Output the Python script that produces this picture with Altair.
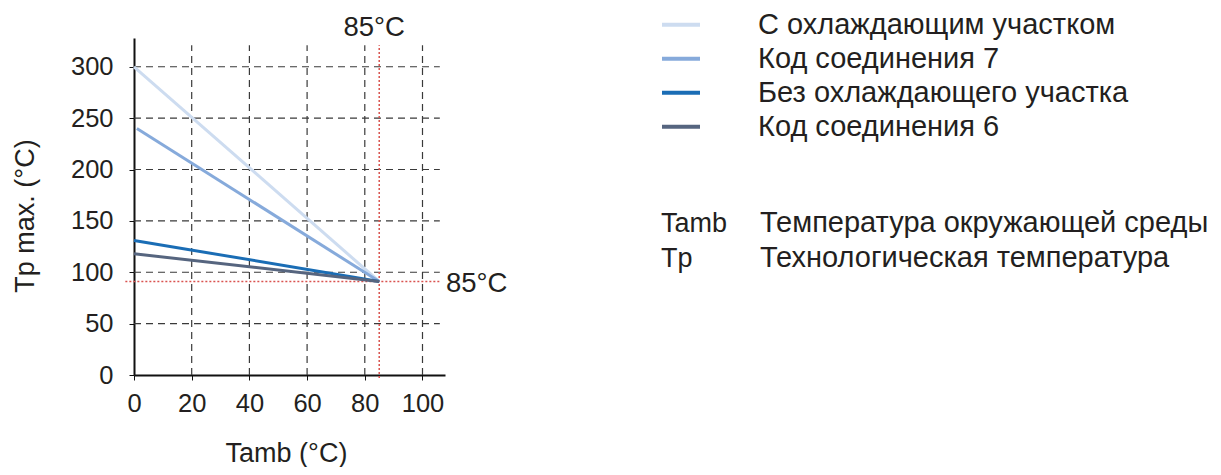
import altair as alt
import pandas as pd

FONT = "Liberation Sans"
TXT = "#231f20"

series_names = ["С охлаждающим участком", "Код соединения 7",
                "Без охлаждающего участка", "Код соединения 6"]
series_colors = ["#cddcf0", "#86aadb", "#1a6db5", "#56657f"]
x_start = [0, 1, 0, 0]
y_start = [300, 240, 131, 118]
x_end = [85, 85, 85, 85]
y_end = [91, 91, 91, 91]

x_ticks = [0, 20, 40, 60, 80, 100]
y_ticks = [0, 50, 100, 150, 200, 250, 300]
x_grid = [20, 40, 60, 80, 100]
y_grid = [50, 100, 150, 200, 250, 300]

limit_x = 85
limit_y = 91

abbr = ["Tamb", "Tp"]
abbr_desc = ["Температура окружающей среды", "Технологическая температура"]

rows = []
for n, xs_, ys_, xe, ye in zip(series_names, x_start, y_start, x_end, y_end):
    rows.append({"s": n, "x": xs_, "y": ys_})
    rows.append({"s": n, "x": xe, "y": ye})
lines_df = pd.DataFrame(rows)

xs = alt.Scale(domain=[0, 107.8], nice=False, zero=False)
ys = alt.Scale(domain=[0, 328], nice=False)

vgrid = alt.Chart(pd.DataFrame({"x": x_grid})).mark_rule(
    strokeDash=[7, 5], color="#3a3a3a", strokeWidth=1.2
).encode(x=alt.X("x:Q", scale=xs), y=alt.datum(0), y2=alt.datum(321))

hgrid = alt.Chart(pd.DataFrame({"y": y_grid})).mark_rule(
    strokeDash=[7, 5], color="#3a3a3a", strokeWidth=1.2
).encode(y=alt.Y("y:Q", scale=ys), x=alt.datum(0), x2=alt.datum(106))

red_v = alt.Chart(pd.DataFrame({"x": [limit_x]})).mark_rule(
    strokeDash=[2, 2], color="#d9534f", strokeWidth=1.5
).encode(x=alt.X("x:Q", scale=xs), y=alt.datum(-3), y2=alt.datum(321))

red_h = alt.Chart(pd.DataFrame({"y": [limit_y]})).mark_rule(
    strokeDash=[2, 2], color="#d9534f", strokeWidth=1.5
).encode(y=alt.Y("y:Q", scale=ys), x=alt.datum(-3), x2=alt.datum(106))

lines = alt.Chart(lines_df).mark_line(strokeWidth=3).encode(
    x=alt.X("x:Q", scale=xs,
            axis=alt.Axis(values=x_ticks, title="Tamb (°C)", grid=False,
                          labelFontSize=25.5, labelPadding=11, tickSize=5,
                          labelFlush=False,
                          titleFontSize=27, titleFontWeight="normal",
                          titleX=152, titleY=86.5, titleAlign="center",
                          titleBaseline="alphabetic")),
    y=alt.Y("y:Q", scale=ys,
            axis=alt.Axis(values=y_ticks, title="Tp max. (°C)", grid=False,
                          labelFontSize=25.5, labelPadding=16, tickSize=5,
                          labelFlush=False,
                          titleFontSize=27, titleFontWeight="normal",
                          titleX=-108.5, titleY=177.5, titleAngle=-90,
                          titleAlign="center", titleBaseline="middle")),
    color=alt.Color("s:N", scale=alt.Scale(domain=series_names, range=series_colors),
                    sort=series_names,
                    legend=alt.Legend(title=None, orient="none", legendX=526, legendY=-29,
                                      symbolType="stroke", symbolSize=1444,
                                      symbolStrokeWidth=4, labelFontSize=29,
                                      labelOffset=56, rowPadding=2, padding=0,
                                      clipHeight=31.7,
                                      labelColor=TXT, labelLimit=700)),
    detail="s:N",
)

lab_top = alt.Chart(pd.DataFrame({"x": [limit_x], "t": ["85°C"]})).mark_text(
    fontSize=27.5, font=FONT, color=TXT, baseline="alphabetic", align="center", dx=-5
).encode(x=alt.X("x:Q", scale=xs), y=alt.value(-2), text="t:N")

lab_right = alt.Chart(pd.DataFrame({"y": [limit_y], "t": ["85°C"]})).mark_text(
    fontSize=27.5, font=FONT, color=TXT, baseline="alphabetic", align="left", dy=10.7
).encode(y=alt.Y("y:Q", scale=ys), x=alt.value(312), text="t:N")

desc_layers = []
for i, (a, d) in enumerate(zip(abbr, abbr_desc)):
    dfi = pd.DataFrame({"a": [a], "d": [d]})
    yy = 194.3 + 34.4 * i
    desc_layers.append(alt.Chart(dfi).mark_text(
        fontSize=27, font=FONT, color=TXT, baseline="alphabetic", align="left"
    ).encode(x=alt.value(527), y=alt.value(yy), text="a:N"))
    desc_layers.append(alt.Chart(dfi).mark_text(
        fontSize=29, font=FONT, color=TXT, baseline="alphabetic", align="left"
    ).encode(x=alt.value(626), y=alt.value(yy), text="d:N"))

chart = alt.layer(vgrid, hgrid, red_v, red_h, lines, lab_top, lab_right, *desc_layers).properties(
    width=311, height=337,
    autosize=alt.AutoSizeParams(type="none"),
    padding={"left": 126, "top": 30, "right": 768, "bottom": 92},
).configure(font=FONT).configure_view(stroke=None).configure_axis(
    domainColor="#111", domainWidth=2, tickColor="#111", labelColor=TXT,
    titleColor=TXT, labelFont=FONT, titleFont=FONT
)

chart.save("out.html", embed_options={"renderer": "svg", "actions": False})
